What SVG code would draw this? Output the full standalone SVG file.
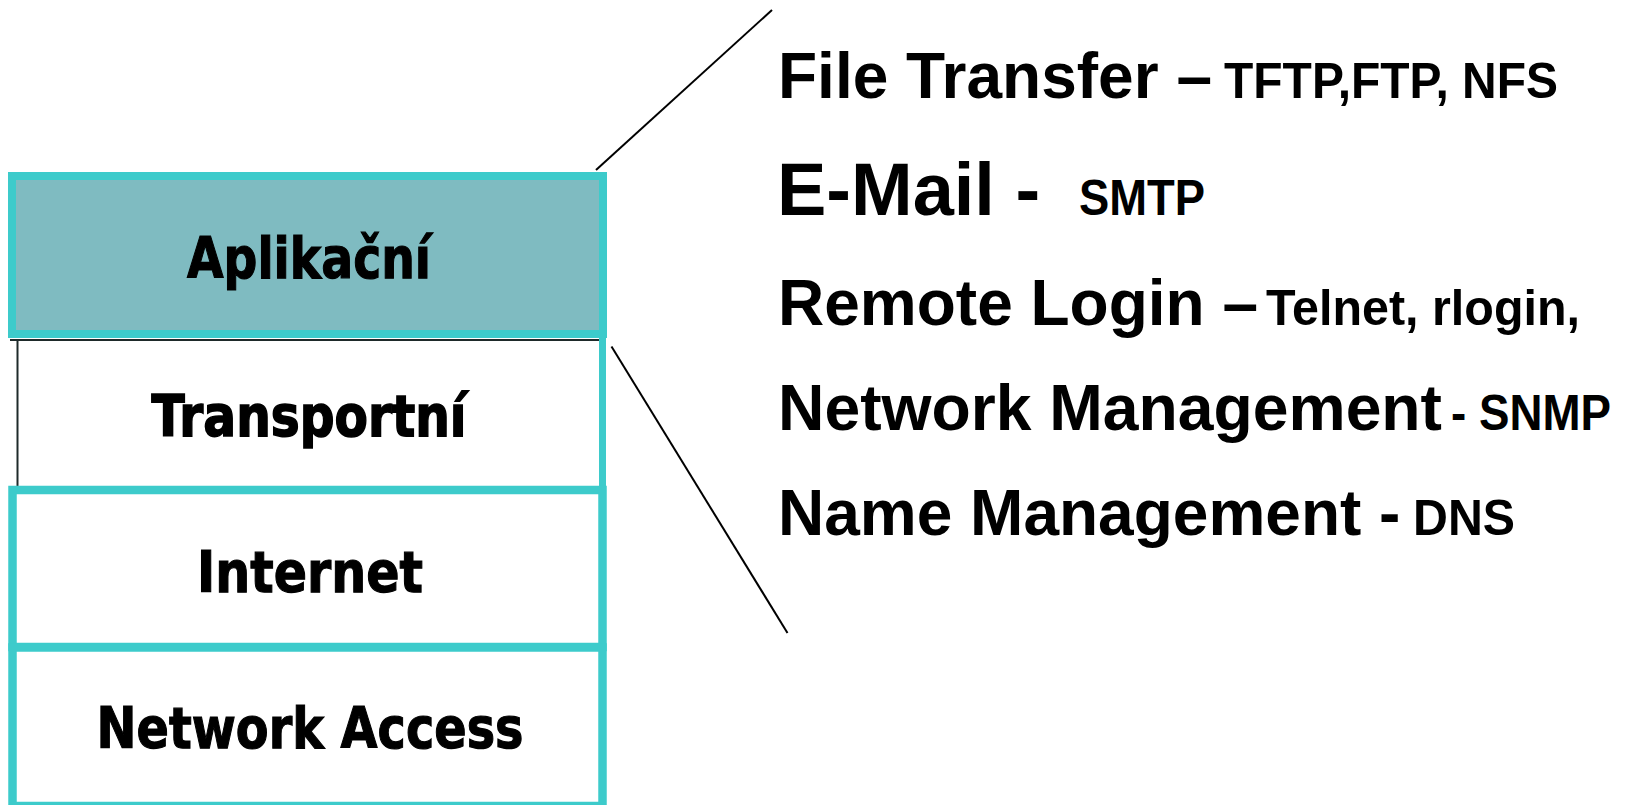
<svg xmlns="http://www.w3.org/2000/svg" width="1625" height="805" viewBox="0 0 1625 805">
  <style>
    .layer-label { font-family: "DejaVu Sans", "Liberation Sans", sans-serif; font-weight: bold; font-size: 57px; fill: #000; stroke: #000; stroke-width: 1.2px; text-anchor: middle; }
    .cyan { fill: none; stroke: #3dcbcb; }
    .proto { font-family: "Liberation Sans", Arial, sans-serif; font-weight: bold; fill: #000; }
    .big { font-size: 64px; }
    .small { font-size: 50px; }
    .link { stroke: #000; stroke-width: 2; fill: none; }
  </style>

  <rect width="1625" height="805" fill="#fff"/>

  <!-- TCP/IP layer stack -->
  <g id="layer-application">
    <rect x="12" y="176" width="591" height="158" fill="#7fbbc1" stroke="#3dcbcb" stroke-width="8"/>
    <text class="layer-label" x="309" y="278" textLength="244" lengthAdjust="spacingAndGlyphs">Aplikační</text>
  </g>

  <g id="layer-transport">
    <rect x="18" y="340" width="581" height="146" fill="#fff"/>
    <line x1="10" y1="340" x2="605" y2="340" stroke="#1e2a2a" stroke-width="2"/>
    <line x1="17.5" y1="340" x2="17.5" y2="487" stroke="#1e2a2a" stroke-width="2"/>
    <line class="cyan" x1="602.5" y1="338" x2="602.5" y2="490" stroke-width="7"/>
    <text class="layer-label" x="309" y="436" font-size="60" style="stroke-width:1.6px" textLength="315" lengthAdjust="spacingAndGlyphs">Transportní</text>
  </g>

  <g id="layer-internet">
    <rect x="12.5" y="490" width="590" height="157" fill="#fff" stroke="#3dcbcb" stroke-width="8.5"/>
    <text class="layer-label" x="310" y="592" textLength="226" lengthAdjust="spacingAndGlyphs">Internet</text>
  </g>

  <g id="layer-network-access">
    <rect x="12.5" y="647.5" width="590" height="158.5" fill="#fff" stroke="#3dcbcb" stroke-width="8.5"/>
    <text class="layer-label" x="310" y="748" textLength="427" lengthAdjust="spacingAndGlyphs">Network Access</text>
  </g>

  <!-- fan-out lines from the application layer to its protocol list -->
  <g id="connectors">
    <line class="link" x1="596" y1="170" x2="772" y2="10"/>
    <line class="link" x1="611.5" y1="346.5" x2="787.5" y2="633"/>
  </g>

  <!-- application protocols -->
  <g id="protocols">
    <text class="proto" y="98"><tspan class="big" x="778">File Transfer –</tspan><tspan class="small" x="1224" textLength="334" lengthAdjust="spacingAndGlyphs">TFTP,FTP, NFS</tspan></text>
    <text class="proto" y="215"><tspan x="777" font-size="74">E-Mail -</tspan><tspan class="small" x="1079" textLength="126" lengthAdjust="spacingAndGlyphs">SMTP</tspan></text>
    <text class="proto" y="325"><tspan class="big" x="778">Remote Login –</tspan><tspan class="small" x="1266" textLength="314" lengthAdjust="spacingAndGlyphs">Telnet, rlogin,</tspan></text>
    <text class="proto" y="430"><tspan class="big" x="778" textLength="664" lengthAdjust="spacingAndGlyphs">Network Management</tspan><tspan class="small" x="1451" textLength="160" lengthAdjust="spacingAndGlyphs">- SNMP</tspan></text>
    <text class="proto" y="535"><tspan class="big" x="778">Name Management -</tspan><tspan class="small" x="1413" textLength="102" lengthAdjust="spacingAndGlyphs">DNS</tspan></text>
  </g>
</svg>
